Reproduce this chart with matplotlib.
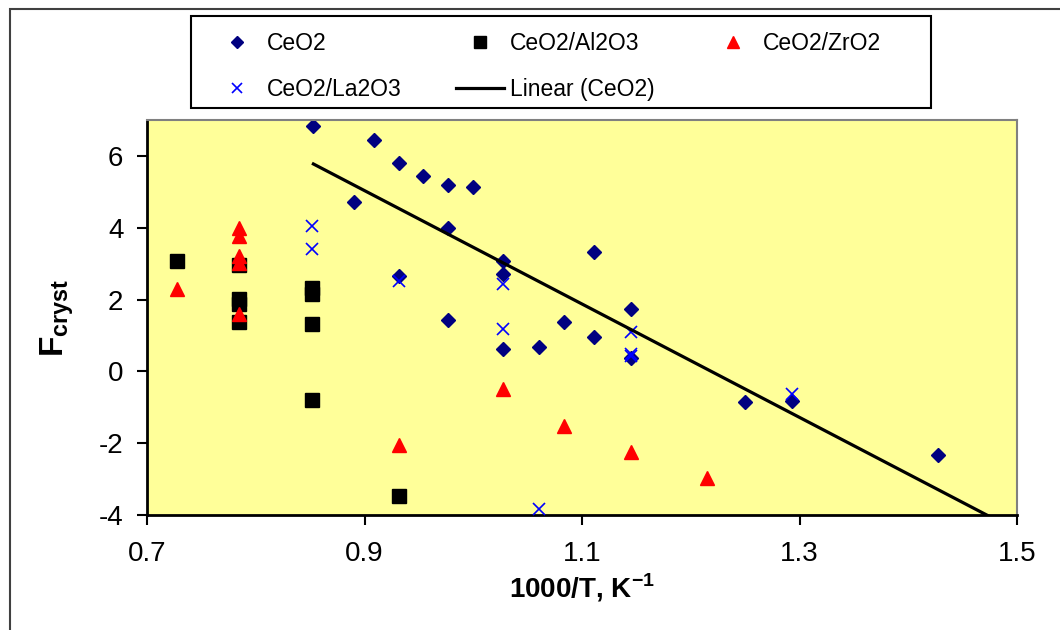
import numpy as np
import matplotlib
matplotlib.use("Agg")
import matplotlib.pyplot as plt
from matplotlib.lines import Line2D
from matplotlib.patches import Rectangle

plt.rcParams['font.family'] = ['Liberation Sans', 'DejaVu Sans']
plt.rcParams['mathtext.fontset'] = 'custom'
plt.rcParams['mathtext.rm'] = 'Liberation Sans'
plt.rcParams['mathtext.bf'] = 'Liberation Sans:bold'
plt.rcParams['axes.unicode_minus'] = False

# data (x = 1000/T)
ceo2_x = [0.853, 0.909, 0.932, 0.954, 0.890, 0.932, 0.977, 1.000, 0.977, 1.027, 1.027,
          1.111, 0.977, 1.083, 1.027, 1.060, 1.111, 1.145, 1.145, 1.250, 1.293, 1.427]
ceo2_y = [6.84, 6.45, 5.79, 5.45, 4.72, 2.65, 5.20, 5.13, 3.99, 3.06, 2.72,
          3.33, 1.44, 1.38, 0.62, 0.69, 0.95, 1.75, 0.37, -0.85, -0.82, -2.33]

al_x = [0.728, 0.785, 0.785, 0.785, 0.785, 0.852, 0.852, 0.852, 0.852, 0.932]
al_y = [3.08, 2.95, 2.02, 1.88, 1.38, 2.32, 2.16, 1.32, -0.79, -3.48]

zr_x = [0.728, 0.785, 0.785, 0.785, 0.785, 0.785, 0.932, 1.027, 1.083, 1.145, 1.215]
zr_y = [2.30, 3.98, 3.78, 3.20, 3.02, 1.61, -2.05, -0.50, -1.52, -2.25, -2.97]

la_x = [0.852, 0.852, 0.932, 1.027, 1.027, 1.145, 1.145, 1.145, 1.293, 1.060]
la_y = [4.05, 3.41, 2.51, 2.43, 1.18, 1.09, 0.47, 0.42, -0.64, -3.82]

x_ticks = [0.7, 0.9, 1.1, 1.3, 1.5]
y_ticks = [-4, -2, 0, 2, 4, 6]

fig = plt.figure(figsize=(10.6, 6.3), dpi=100)
ax = fig.add_axes([147 / 1060, 115 / 630, 870 / 1060, 395 / 630])
ax.set_facecolor('#FFFF99')

ax.plot(ceo2_x, ceo2_y, 'D', color='#000080', ms=7, mec='#000080', zorder=2,
        label='CeO2')
ax.plot(al_x, al_y, 's', color='black', ms=9.5, zorder=3, label='CeO2/Al2O3')
ax.plot(zr_x, zr_y, '^', color='red', ms=9.5, zorder=4, label='CeO2/ZrO2')
ax.plot(la_x, la_y, 'x', color='blue', ms=8, mew=1.2, zorder=5, label='CeO2/La2O3')

# linear trendline fitted on the CeO2 points
slope, icpt = np.polyfit(ceo2_x, ceo2_y, 1)
fx = np.array([min(ceo2_x), 1.5])
ax.plot(fx, slope * fx + icpt, color='black', lw=2.3, zorder=6, label='Linear (CeO2)')

ax.set_xlim(0.7, 1.5)
ax.set_ylim(-4, 7)
ax.set_xticks(x_ticks)
ax.set_xticklabels([f'{v:g}' for v in x_ticks])
ax.set_yticks(y_ticks)
ax.tick_params(axis='both', direction='out', length=7, width=1.5, labelsize=20)
ax.tick_params(axis='x', pad=12)
ax.tick_params(axis='y', pad=10)
for s in ['left', 'bottom']:
    ax.spines[s].set_linewidth(2)
    ax.spines[s].set_color('black')
for s in ['top', 'right']:
    ax.spines[s].set_linewidth(1.5)
    ax.spines[s].set_color('#808080')

ax.set_xlabel(r'1000/T, K$^{\mathbf{-1}}$', fontsize=20, fontweight='bold', labelpad=3)
ax.set_ylabel(r'$\mathbf{F_{cryst}}$', fontsize=24, labelpad=16)

handles = [
    Line2D([], [], ls='', marker='D', color='#000080', ms=6),
    Line2D([], [], ls='', marker='x', color='blue', ms=7, mew=1.2),
    Line2D([], [], ls='', marker='s', color='black', ms=8),
    Line2D([], [], color='black', lw=2.3),
    Line2D([], [], ls='', marker='^', color='red', ms=8),
]
labels = ['CeO2', 'CeO2/La2O3', 'CeO2/Al2O3', 'Linear (CeO2)', 'CeO2/ZrO2']
# legend content without its own frame, the box is drawn separately
leg = fig.legend(handles, labels, ncol=3, loc='upper left',
                 bbox_to_anchor=(213 / 1060, 1 - 104 / 630, 668 / 1060, 72 / 630),
                 mode='expand', fontsize=16.5, frameon=False, borderpad=0,
                 labelspacing=1.0, handletextpad=0.25, handlelength=2.1,
                 borderaxespad=0)
fig.add_artist(Rectangle((191 / 1060, 1 - 108 / 630), 740 / 1060, 92 / 630,
                         transform=fig.transFigure, fill=False,
                         edgecolor='black', lw=1.5))

# outer chart frame
fig.add_artist(Rectangle((10 / 1060, -0.05), 1.1, 1.05 - 9 / 630,
                         transform=fig.transFigure, fill=False,
                         edgecolor='#404040', lw=1.5, clip_on=False))

fig.savefig('out.png', dpi=100)
